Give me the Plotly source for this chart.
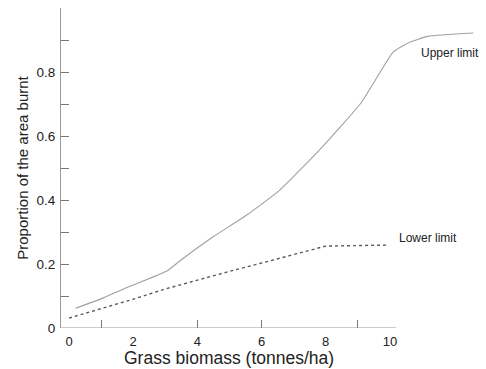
import plotly.graph_objects as go

# Data
upper_x = [0.2, 1.0, 1.7, 3.05, 3.46, 4.49, 5.54, 6.57, 7.8, 9.1, 10.1, 10.55, 11.2, 12.6]
upper_y = [0.062, 0.091, 0.122, 0.178, 0.21, 0.285, 0.353, 0.431, 0.556, 0.703, 0.862, 0.89, 0.912, 0.922]
lower_x = [0.0, 1.0, 2.0, 3.0, 4.0, 5.0, 6.0, 7.0, 8.0, 9.9]
lower_y = [0.031, 0.06, 0.09, 0.122, 0.15, 0.177, 0.203, 0.23, 0.256, 0.259]

x_tickvals = [0, 2, 4, 6, 8, 10]
x_minor_ticks = [1, 4, 6, 9]
y_tickvals = [0, 0.1, 0.2, 0.3, 0.4, 0.5, 0.6, 0.7, 0.8, 0.9, 1.0]
y_ticktext = ["0", "", "0.2", "", "0.4", "", "0.6", "", "0.8", "", ""]

font = "Liberation Sans, Arial, sans-serif"

fig = go.Figure()
fig.add_trace(go.Scatter(x=upper_x, y=upper_y, mode="lines",
                         line=dict(color="#a0a0a0", width=1.1, shape="spline", smoothing=0.4),
                         showlegend=False))
fig.add_trace(go.Scatter(x=lower_x, y=lower_y, mode="lines",
                         line=dict(color="#5a5a5a", width=1.4, dash="dot"), showlegend=False))

fig.add_annotation(x=11.87, y=0.86, text="Upper limit", showarrow=False,
                   font=dict(family=font, size=12, color="#222"))
fig.add_annotation(x=11.18, y=0.281, text="Lower limit", showarrow=False,
                   font=dict(family=font, size=12, color="#222"))
# x-axis title centred under the 0-10 span, as in the reference
fig.add_annotation(x=5.0, xref="x", y=-0.094, yref="paper", yanchor="middle",
                   text="Grass biomass (tonnes/ha)", showarrow=False,
                   font=dict(family=font, size=17.5, color="#222"))

# x-axis baseline (stops near 10 as in the reference)
fig.add_shape(type="line", xref="x", yref="y", x0=-0.25, x1=10.2, y0=0, y1=0,
              line=dict(color="#999", width=1))

fig.update_layout(
    width=486, height=369,
    margin=dict(l=61, r=4, t=8, b=41),
    paper_bgcolor="white", plot_bgcolor="white",
    font=dict(family=font, color="#222"),
)
fig.update_xaxes(
    range=[-0.25, 12.87], showgrid=False, zeroline=False, showline=False,
    tickmode="array", tickvals=x_tickvals, ticks="",
    minor=dict(tickmode="array", tickvals=x_minor_ticks, ticks="inside",
               ticklen=8, tickcolor="#777", tickwidth=1),
    tickfont=dict(size=13, color="#222"), ticklabelstandoff=4,
)
fig.update_yaxes(
    range=[0, 1.0], showgrid=False, zeroline=False, showline=True,
    linecolor="#999", linewidth=1,
    tickmode="array", tickvals=y_tickvals, ticktext=y_ticktext,
    ticks="inside", ticklen=8, tickcolor="#777",
    tickfont=dict(size=13.5, color="#222"), ticklabelstandoff=2,
    title=dict(text="Proportion of the area burnt", font=dict(size=15, color="#222"), standoff=4),
)

fig.write_html("out.html")
